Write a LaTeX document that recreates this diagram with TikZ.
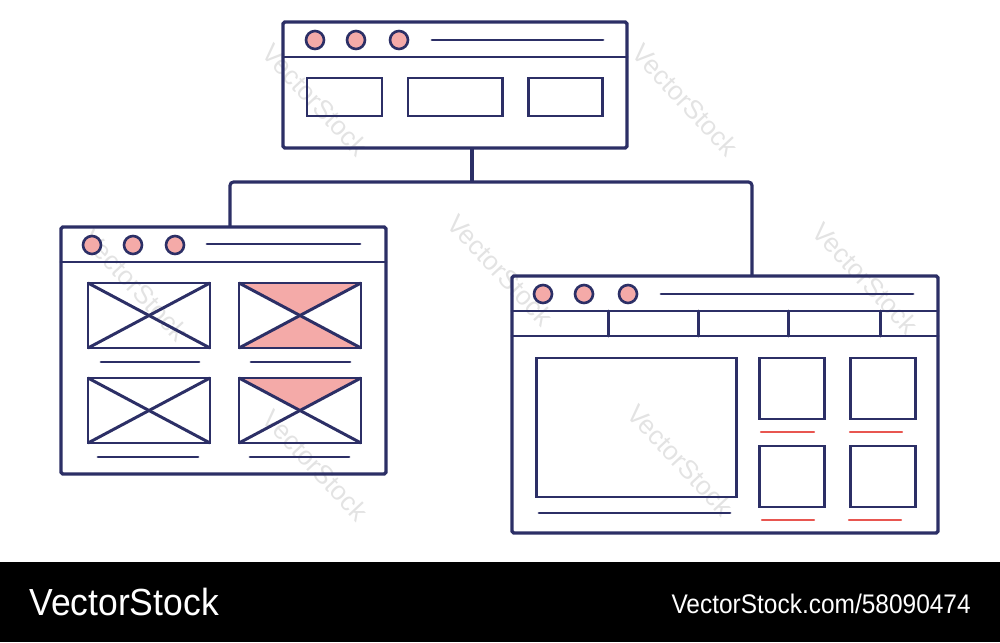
\documentclass[tikz,border=0pt]{standalone}
\usepackage{fontspec}
\setmainfont{Liberation Sans}
\usetikzlibrary{positioning}

\definecolor{navy}{RGB}{44,47,102}
\definecolor{blush}{RGB}{244,170,168}
\definecolor{coral}{RGB}{232,86,80}
\newcommand{\px}{0.02cm}

\tikzset{
  window/.style={draw=navy, line width=1.9pt, rounded corners=1pt, anchor=north west, inner sep=0pt, outer sep=0pt},
  wire/.style={draw=navy, line width=1.8pt, rounded corners=2pt},
  thumb/.style={draw=navy, line width=1.7pt},
  dot/.style={circle, draw=navy, fill=blush, line width=1.5pt, minimum size=18*\px, inner sep=0pt},
  caption/.style={draw=navy, line width=1.7pt, line cap=round},
  redcaption/.style={draw=coral, line width=1.4pt, line cap=round},
  wmtext/.style={text=gray!22, font=\fontsize{15}{15}\selectfont, rotate=-47},
  barfont/.style={text=white, inner sep=0pt}
}

\begin{document}
\begin{tikzpicture}[x=0.02cm, y=-0.02cm]
\useasboundingbox (0,0) rectangle (1000,642);

% watermark
\foreach \wx/\wy [count=\i] in {315/100, 685/100, 135/285, 500/270, 865/278, 315/465, 680/460}
  \node[wmtext] (wm\i) at (\wx,\wy) {VectorStock};

% top window
\node[window, minimum width=344*\px, minimum height=126*\px] (top) at (283,22) {};
\draw[caption] (283,57) -- (627,57);
\foreach \cx [count=\i] in {315,356,399}
  \node[dot] (topdot\i) at (\cx,40) {};
\draw[caption] (432,40) -- (603,40);
\draw[thumb] (307,78) rectangle (382,116);
\draw[thumb] (408,78) rectangle (502,116);
\draw[thumb] (528,78) rectangle (602,116);

% left window
\node[window, minimum width=325*\px, minimum height=247*\px] (left) at (61,227) {};
\draw[caption] (61,262) -- (386,262);
\foreach \cx [count=\i] in {92,133,175}
  \node[dot] (leftdot\i) at (\cx,245) {};
\draw[caption] (207,244) -- (360,244);
\fill[blush] (239,283) -- (361,283) -- (300,315.5) -- cycle;
\fill[blush] (239,348) -- (361,348) -- (300,315.5) -- cycle;
\fill[blush] (239,378) -- (361,378) -- (300,410) -- cycle;
\foreach \tx/\ty in {88/283, 239/283, 88/378, 239/378} {
  \draw[thumb] (\tx,\ty) rectangle ++(122,65);
  \draw[thumb] (\tx,\ty) -- ++(122,65);
  \draw[thumb] (\tx,\ty+65) -- ++(122,-65);
}
\draw[caption] (101,362) -- (199,362);
\draw[caption] (251,362) -- (350,362);
\draw[caption] (98,457) -- (198,457);
\draw[caption] (250,457) -- (349,457);

% right window
\node[window, minimum width=426*\px, minimum height=257*\px] (right) at (512,276) {};
\draw[caption] (512,311) -- (938,311);
\draw[caption] (512,336) -- (938,336);
\foreach \nx in {608,698,788,880}
  \draw[caption] (\nx,311) -- (\nx,336);
\foreach \cx [count=\i] in {543,584,628}
  \node[dot] (rightdot\i) at (\cx,294) {};
\draw[caption] (661,294) -- (913,294);
\draw[thumb] (536,358) rectangle (736,497);
\draw[caption] (539,513) -- (730,513);
\draw[thumb] (759,358) rectangle (824,419);
\draw[thumb] (850,358) rectangle (915,419);
\draw[thumb] (759,446) rectangle (824,507);
\draw[thumb] (850,446) rectangle (915,507);
\draw[redcaption] (761,432) -- (814,432);
\draw[redcaption] (850,432) -- (902,432);
\draw[redcaption] (762,520) -- (814,520);
\draw[redcaption] (849,520) -- (901,520);

% connectors
\coordinate (fork) at (472,182);
\draw[wire] ([xshift=17*\px]top.south) -- (fork);
\draw[wire] ([xshift=6.5*\px]left.north) |- (fork) -| ([xshift=27*\px]right.north);

% bottom bar
\fill[black] (0,562) rectangle (1000,642);
\node[barfont, anchor=west, xscale=0.94, font=\fontsize{21.5}{22}\selectfont] (brand) at (29,602) {VectorStock};
\node[barfont, anchor=east, xscale=0.91, font=\fontsize{15.3}{16}\selectfont] (stockid) at (971,604) {VectorStock.com/58090474};
\end{tikzpicture}
\end{document}
